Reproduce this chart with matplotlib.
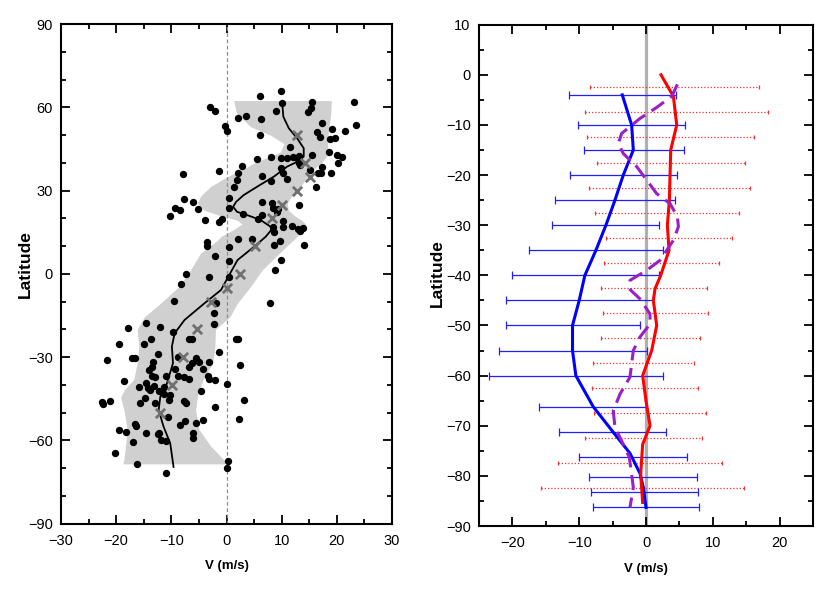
import numpy as np
import matplotlib
matplotlib.use('Agg')
import matplotlib.pyplot as plt
from matplotlib.ticker import MultipleLocator

plt.rcParams['font.family'] = ['Liberation Sans', 'DejaVu Sans']

# ---- left panel data ----
dots_v = [6.05, 9.8, 10.1, 15.5, 23.1, 15.4, 14.7, 9.0, -3.0, -2.1, 2.1, 3.6, 6.2, -0.2, 0.06,
          6.05, 17.4, 23.5, 19.1, 21.4, 16.4, 16.9, 18.8, 19.6, 11.6, 18.5, 20.0, 21.0, 20.2, 15.5,
          13.2, 13.0, 12.0, 11.0, 9.9, 8.0, 5.6, 2.8, -1.4, -7.9, 13.1, 13.4, 17.4, 16.5, 17.1,
          18.9, 15.2, 9.9, 10.3, 11.0, 6.5, 8.0, 2.0, 1.9, 1.45, 16.2, 0.4, -7.7, -6.1, -9.4,
          -8.5, -10.3, -5.1, -3.9, -1.3, -0.85, 0.4, 3.0, 6.5, 8.2, 8.5, 9.1, 9.4, 13.2, 5.7,
          6.4, 10.2, 8.5, 10.3, 11.9, 12.9, 13.8, 13.4, 8.7, 2.1, 4.7, 9.7, 8.7, 14.1, -3.5,
          -3.5, 0.4, -2.1, 0.4, 9.8, 8.8, -7.4, -3.1, 0.4,
          -8.3, -9.6, 7.9, -1.9, -2.3, -2.3, -14.6, -17.8, -12.1, -9.7, -13.7, -14.9, -19.4,
          -6.8, -6.2, 1.75, 2.1, -1.4, -12.5, -21.7, -17.2, -16.6, 2.4, -8.8, -5.6, -5.0, -6.2,
          -6.8, -3.1, -13.3, -13.5, -14.0, -9.3, -4.2, -13.5, -12.9, -10.9, -8.8, -7.7, -6.8,
          -3.3, -3.2, -2.0, -18.5, -14.6, -14.2, -13.2, -15.9, -13.9, -12.2, -11.3, -11.4,
          -10.3, -10.5, 0.1, -4.7, -14.7, -22.6, -22.4, -21.2, -15.6, -12.9, -7.7, -7.4, 3.1,
          -2.0, -10.6, -7.6, -8.5, -4.2, -5.6, 2.2, -16.6, -16.4, -19.5, -18.3, -14.6, -12.4,
          -12.2, -6.0, -6.0, -11.9, -11.0, -17.0, -20.3, -16.3, 0.2, 0.0, -11.0]
dots_lat = [64.1, 65.8, 61.5, 62.0, 61.9, 59.8, 58.4, 58.6, 60.0, 58.8, 56.3, 56.8, 55.9, 53.2, 51.4,
            50.2, 54.3, 53.6, 52.1, 51.4, 51.3, 49.5, 48.8, 49.0, 45.6, 43.9, 43.0, 42.0, 39.9, 43.0,
            42.5, 41.5, 42.0, 41.9, 41.8, 42.0, 41.5, 38.9, 37.2, 36.0, 40.1, 39.1, 38.6, 36.3, 36.3,
            36.3, 37.5, 38.1, 36.3, 34.3, 35.3, 33.5, 36.3, 33.9, 31.2, 31.2, 27.2, 26.9, 25.8, 23.9,
            22.9, 20.7, 23.3, 19.6, 18.7, 19.9, 23.9, 21.6, 26.0, 25.7, 23.7, 22.3, 23.3, 24.7, 19.7,
            21.1, 19.0, 17.0, 16.8, 17.3, 16.3, 16.7, 15.3, 15.0, 12.7, 12.5, 12.0, 10.5, 10.3, 11.6,
            10.2, 9.6, 6.6, 4.8, 4.9, 1.5, 0.0, -1.0, -1.2,
            -3.6, -9.8, -10.6, -10.4, -14.2, -17.9, -17.6, -19.5, -19.1, -20.8, -23.5, -25.4, -25.2,
            -23.5, -23.5, -23.5, -23.5, -28.3, -28.9, -31.2, -30.2, -30.2, -32.8, -30.1, -30.4, -31.6, -32.0,
            -33.4, -31.9, -31.9, -33.4, -34.5, -34.2, -34.4, -36.8, -37.3, -36.7, -36.7, -37.3, -38.0,
            -36.8, -38.0, -38.1, -38.6, -39.5, -41.3, -40.3, -40.7, -41.9, -42.2, -40.9, -43.4,
            -43.8, -45.5, -39.8, -42.3, -44.7, -46.3, -47.0, -45.8, -46.7, -46.4, -45.7, -46.4, -45.6,
            -47.9, -51.5, -53.0, -54.5, -52.6, -53.6, -52.3, -54.1, -54.8, -56.4, -57.0, -57.5, -57.7,
            -57.3, -57.3, -59.3, -59.9, -60.3, -60.5, -64.5, -68.4, -67.5, -69.9, -71.7]

cross_v = [12.7, 14.2, 15.1, 12.7, 10.1, 8.2, 5.1, 2.5, 0.1, -2.9, -5.4, -7.9, -9.9, -12.0]
cross_lat = [50, 40, 35, 30, 25, 20, 10, 0, -5, -10, -20, -30, -40, -50]

fit_v = [10.1, 10.3, 11.3, 12.8, 14.0, 14.0, 12.9, 11.0, 8.6, 5.6, 3.1, 1.75, 1.2, 1.9, 3.75,
         6.2, 8.0, 8.1, 7.1, 5.0, 2.0, 0.5, -1.0, -4.0, -7.6, -9.4, -9.9, -9.7, -10.8,
         -12.0, -12.3, -11.4, -10.2, -9.6]
fit_lat = [61.7, 56.7, 52.5, 48.9, 45.3, 42.3, 40.5, 38.7, 35.1, 31.5, 28.4, 26.0, 24.2, 22.4, 21.2,
           19.4, 17.0, 15.8, 13.4, 9.8, 5.0, -0.4, -5.8, -10.6, -16.6, -21.4, -26.2, -32.2,
           -39.5, -44.3, -49.1, -55.1, -61.1, -69.6]

band_lat = [62.5, 58, 53, 50, 47, 44, 42, 40, 38.5, 35, 31.5, 28, 25.5, 23, 21, 19.4, 18, 16,
            13.5, 12, 7.5, 1.5, -4.5, -10.5, -15.5, -20, -26, -32, -38, -42, -44.5, -49, -56,
            -62, -67, -68.5]
band_lo = [1.3, 1.8, 4.4, 8.0, 10.4, 9.8, 7.4, 5.0, 3.7, 0.1, -2.9, -4.7, -5.3, -4.1, -1.1, 1.9,
           2.8, 1.3, -1.0, -1.7, -4.7, -6.5, -8.6, -11.9, -14.9, -16.2, -15.9, -16.2, -16.8, -18.6,
           -19.2, -18.6, -18.0, -18.3, -18.6, -18.8]
band_hi = [19.0, 18.9, 18.6, 18.4, 18.3, 18.3, 18.0, 17.2, 16.2, 14.6, 13.4, 11.8, 11.0, 11.2, 12.3,
           13.6, 14.3, 13.8, 12.8, 12.0, 9.6, 6.5, 4.4, 2.0, 0.6, -2.0, -2.1, -2.5, -4.2, -5.0,
           -5.3, -5.6, -5.0, -2.9, -0.5, 0.0]

# ---- right panel data ----
blue_lat = [-4, -10, -15, -20, -25, -30, -35, -40, -45, -50, -55, -60, -66.2, -71.3, -76.2,
            -80.2, -83.2, -86.3]
blue_lo = [-11.5, -10.2, -9.3, -11.35, -13.55, -14.0, -17.5, -20.0, -21.0, -21.0, -22.0, -23.5,
           -16.0, -13.0, -10.0, -8.5, -8.25, -8.0]
blue_hi = [4.5, 5.85, 5.7, 4.7, 4.4, 2.0, 2.5, 2.0, 1.1, -0.9, 0.1, 2.5, 0.0, 3.0, 6.1, 7.6, 7.8, 8.0]
blue_line_v = [-3.55, -2.15, -1.9, -3.4, -4.65, -6.0, -7.5, -9.15, -10.0, -11.0, -11.0, -10.5,
               -7.9, -4.9, -2.4, -0.9, -0.4, 0.0]
blue_line_lat = [-4, -10, -15, -20, -25, -30, -35, -40, -45, -50, -55, -60, -66.2, -71.3, -75.5,
                 -79.5, -82.3, -86.3]

red_lat = [-2.5, -7.5, -12.5, -17.5, -22.5, -27.5, -32.5, -37.5, -42.5, -47.5, -52.5, -57.5,
           -62.5, -67.5, -72.5, -77.5, -82.5]
red_lo = [-8.4, -9.1, -8.8, -7.4, -8.5, -7.6, -6.0, -6.3, -6.7, -6.4, -6.7, -8.0, -8.1, -7.8,
          -9.15, -13.15, -15.65]
red_hi = [16.9, 18.25, 16.15, 14.75, 15.55, 13.85, 12.8, 10.95, 9.1, 9.35, 8.15, 7.15, 7.75, 9.05,
          8.35, 11.35, 14.7]
red_line_v = [2.25, 4.1, 4.6, 3.7, 3.6, 3.5, 3.2, 3.45, 2.2, 1.35, 1.1, 1.6, 0.85, -0.5, 0.0, 0.6,
              -0.5, -0.8, -0.5]
red_line_lat = [0, -4.3, -10, -15, -20, -25, -30, -35, -40, -42.7, -45, -50, -55, -60, -65, -70,
                -73.7, -79.7, -85.3]

purple_v = [4.7, 3.85, 1.6, -0.9, -3.65, -4.15, -3.4, -1.4, 0.1, 1.6, 3.6, 4.7, 4.85, 4.1, 2.1,
            0.1, -2.4, -2.5, -0.9, 0.6, 0.6, -0.9, -1.9, -2.15, -2.4, -3.9, -4.9, -4.65, -3.4,
            -2.5, -2.15, -1.9, -2.4]
purple_lat = [-1.9, -4.3, -6.5, -8.7, -11.7, -13.7, -15.7, -18.3, -21, -23.7, -25.7, -28.3, -30.3,
              -33, -37, -39, -41, -42.7, -44.7, -47.7, -49.7, -52.3, -55, -57.7, -60.3, -63.7,
              -67, -70.3, -73.7, -76.3, -79.7, -82.3, -86.3]


def bar_centre(lo, hi):
    mid = [(a + b) / 2 for a, b in zip(lo, hi)]
    half = [(b - a) / 2 for a, b in zip(lo, hi)]
    return mid, half


fig = plt.figure(figsize=(8.3, 5.9), dpi=100)
ax1 = fig.add_axes([61 / 830, 1 - 523.5 / 590, 331 / 830, 499.2 / 590])
ax2 = fig.add_axes([479 / 830, 1 - 526 / 590, 334 / 830, 501.3 / 590])

ax1.fill_betweenx(band_lat, band_lo, band_hi, color='#d0d0d0', lw=0, zorder=1)
ax1.axvline(0, color='#909090', ls=(0, (3, 2)), lw=0.9, zorder=2)
ax1.scatter(dots_v, dots_lat, s=28, color='black', zorder=3, lw=0)
ax1.plot(fit_v, fit_lat, color='black', lw=1.3, zorder=4)
ax1.scatter(cross_v, cross_lat, marker='x', s=45, color='#707070', lw=2, zorder=5)
ax1.set_xlim(-30, 30)
ax1.set_ylim(-90, 90)
ax1.xaxis.set_major_locator(MultipleLocator(10))
ax1.xaxis.set_minor_locator(MultipleLocator(5))
ax1.yaxis.set_major_locator(MultipleLocator(30))
ax1.yaxis.set_minor_locator(MultipleLocator(10))

ax2.axvline(0, color='#b0b0b0', lw=2.3, zorder=1)
mid, half = bar_centre(red_lo, red_hi)
eb_red = ax2.errorbar(mid, red_lat, xerr=half, fmt='none', ecolor='#ff3030',
                      elinewidth=0.9, capsize=1.5, capthick=0.9, zorder=2)
eb_red[2][0].set_linestyle((0, (1, 1.6)))
mid, half = bar_centre(blue_lo, blue_hi)
ax2.errorbar(mid, blue_lat, xerr=half, fmt='none', ecolor='#2020ff',
             elinewidth=0.9, capsize=3, capthick=0.9, zorder=2)
ax2.plot(blue_line_v, blue_line_lat, color='blue', lw=2.2, zorder=4)
ax2.plot(red_line_v, red_line_lat, color='red', lw=2.2, zorder=4)
ax2.plot(purple_v, purple_lat, color='#9b1fc9', lw=2.2, ls=(0, (5, 2.5)), zorder=5)
ax2.set_xlim(-25, 25)
ax2.set_ylim(-90, 10)
ax2.xaxis.set_major_locator(MultipleLocator(10))
ax2.xaxis.set_minor_locator(MultipleLocator(5))
ax2.yaxis.set_major_locator(MultipleLocator(10))
ax2.yaxis.set_minor_locator(MultipleLocator(5))

for ax in (ax1, ax2):
    for sp in ax.spines.values():
        sp.set_linewidth(1.5)
    ax.tick_params(which='both', direction='in', top=True, right=True, width=1.3,
                   labelsize=10.5)
    ax.tick_params(axis='x', pad=7.5)
    ax.tick_params(axis='y', pad=6)
    ax.tick_params(which='major', length=6.5)
    ax.tick_params(which='minor', length=3.5)
    ax.set_xlabel('V (m/s)', fontsize=9.5, fontweight='bold', labelpad=9)
    ax.set_ylabel('Latitude', fontsize=12.5, fontweight='bold')

ax1.yaxis.set_label_coords(-0.085, 0.52)
ax2.yaxis.set_label_coords(-0.102, 0.505)

fig.savefig('out.png', dpi=100)
